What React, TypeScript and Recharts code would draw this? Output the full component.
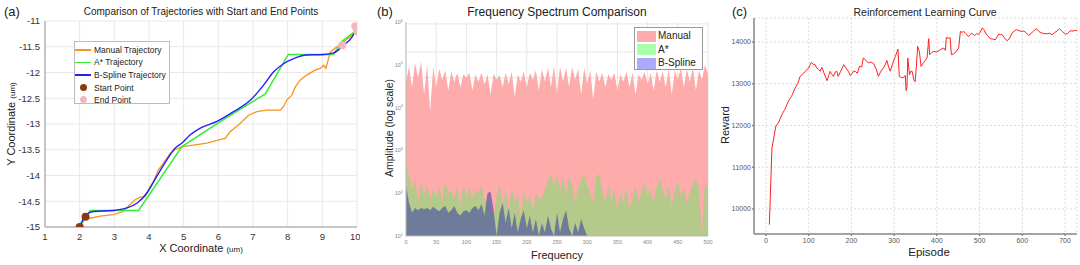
import React from 'react';
import {
  ComposedChart, Line, Scatter, XAxis, YAxis, CartesianGrid,
  AreaChart, Area, LineChart,
} from 'recharts';

// (a) trajectories
const manualX = [2.17, 2.3, 2.59, 2.97, 3.26, 3.4, 3.6, 3.74, 3.89, 3.98, 4.13, 4.27, 4.42, 4.61, 4.75, 4.95, 5.28, 5.67, 5.96, 6.2, 6.34, 6.63, 6.87, 7.11, 7.4, 7.79, 7.88, 7.98, 8.12, 8.22, 8.36, 8.55, 8.8, 8.94, 9.04, 9.1, 9.18, 9.23, 9.42, 9.61, 9.9, 9.98];
const manualY = [-14.8, -14.83, -14.79, -14.76, -14.7, -14.6, -14.47, -14.42, -14.41, -14.28, -14.12, -13.89, -13.76, -13.57, -13.5, -13.44, -13.41, -13.37, -13.32, -13.28, -13.15, -12.99, -12.83, -12.76, -12.73, -12.73, -12.66, -12.53, -12.44, -12.28, -12.15, -12.05, -11.95, -11.92, -11.86, -11.92, -11.73, -11.6, -11.5, -11.41, -11.25, -11.15];
const astarX = [2, 2.3, 3.7, 4.95, 6.0, 7.0, 7.35, 8.02, 9.32, 9.56, 9.94];
const astarY = [-15, -14.68, -14.68, -13.44, -12.98, -12.56, -12.42, -11.65, -11.65, -11.4, -11.2];
const splineX = [2, 2.15, 2.4, 2.97, 3.36, 3.65, 3.94, 4.22, 4.51, 4.75, 4.95, 5.19, 5.48, 5.96, 6.44, 6.92, 7.3, 7.59, 7.88, 8.17, 8.55, 9.04, 9.33, 9.61, 9.86, 9.98];
const splineY = [-15, -14.79, -14.7, -14.68, -14.63, -14.54, -14.34, -14.02, -13.7, -13.47, -13.37, -13.21, -13.08, -12.95, -12.76, -12.54, -12.25, -11.99, -11.83, -11.73, -11.66, -11.65, -11.62, -11.47, -11.31, -11.15];
const startX = [2, 2.17];
const startY = [-15, -14.8];
const endX = [9.57, 9.95, 10];
const endY = [-11.47, -11.1, -11.2];
const xTicksA = [1, 2, 3, 4, 5, 6, 7, 8, 9, 10];
const yTicksA = [-15, -14.5, -14, -13.5, -13, -12.5, -12, -11.5, -11];

// (b) spectrum
const freqs = [0, 5, 10, 15, 20, 25, 30, 35, 40, 45, 50, 55, 60, 65, 70, 75, 80, 85, 90, 95, 100, 105, 110, 115, 120, 125, 130, 135, 140, 145, 150, 155, 160, 165, 170, 175, 180, 185, 190, 195, 200, 205, 210, 215, 220, 225, 230, 235, 240, 245, 250, 255, 260, 265, 270, 275, 280, 285, 290, 295, 300, 305, 310, 315, 320, 325, 330, 335, 340, 345, 350, 355, 360, 365, 370, 375, 380, 385, 390, 395, 400, 405, 410, 415, 420, 425, 430, 435, 440, 445, 450, 455, 460, 465, 470, 475, 480, 485, 490, 495, 500];
const manualAmp = [40000, 90000, 30000, 110000, 50000, 120000, 20000, 100000, 8000, 90000, 30000, 80000, 45000, 75000, 25000, 70000, 40000, 65000, 30000, 60000, 50000, 65000, 25000, 60000, 40000, 65000, 35000, 60000, 20000, 62000, 45000, 58000, 30000, 65000, 35000, 70000, 18000, 60000, 40000, 70000, 30000, 65000, 45000, 75000, 25000, 80000, 40000, 85000, 30000, 95000, 22000, 90000, 40000, 85000, 30000, 90000, 45000, 80000, 20000, 85000, 35000, 75000, 15000, 70000, 40000, 65000, 30000, 60000, 45000, 65000, 25000, 60000, 40000, 70000, 30000, 65000, 20000, 60000, 45000, 70000, 35000, 65000, 25000, 75000, 40000, 70000, 30000, 80000, 20000, 75000, 45000, 85000, 30000, 80000, 40000, 85000, 25000, 75000, 45000, 100000, 60000];
const astarAmp = [600, 250, 120, 200, 60, 180, 90, 150, 70, 130, 80, 150, 60, 180, 100, 120, 70, 150, 50, 160, 90, 140, 70, 120, 100, 160, 60, 90, 40, 30, 80, 160, 50, 120, 40, 140, 60, 100, 30, 120, 60, 90, 40, 100, 70, 80, 120, 200, 280, 150, 260, 120, 230, 90, 250, 150, 60, 130, 200, 280, 150, 100, 60, 250, 280, 120, 60, 150, 70, 120, 40, 100, 60, 130, 40, 80, 150, 60, 110, 170, 90, 130, 60, 140, 220, 120, 70, 150, 50, 110, 200, 80, 130, 60, 100, 170, 220, 120, 10, 180, 120];
const splineAmp = [150, 60, 35, 45, 40, 45, 42, 45, 40, 48, 42, 38, 45, 50, 35, 40, 50, 35, 30, 38, 40, 35, 45, 50, 40, 55, 30, 100, 110, 40, 10, 35, 60, 20, 45, 15, 35, 12, 25, 40, 15, 30, 12, 25, 10, 20, 12, 30, 15, 10, 35, 12, 25, 40, 15, 10, 20, 12, 25, 15, 10, 10, 10, 10, 10, 10, 10, 10, 10, 10, 10, 10, 10, 10, 10, 10, 10, 10, 10, 10, 10, 10, 10, 10, 10, 10, 10, 10, 10, 10, 10, 10, 10, 10, 10, 10, 10, 10, 10, 10, 10];
const seriesB = ['Manual', 'A*', 'B-Spline'];
const xTicksB = [0, 50, 100, 150, 200, 250, 300, 350, 400, 450, 500];
const yTicksB = [10, 100, 1000, 10000, 100000, 1000000];

// (c) learning curve
const episodes = [8, 14, 23, 30, 37, 44, 49, 53, 60, 68, 74, 80, 86, 92, 100, 106, 110, 115, 119, 123, 127, 131, 136, 143, 147, 150, 154, 158, 162, 166, 169, 175, 182, 187, 193, 197, 201, 205, 209, 214, 219, 224, 228, 234, 240, 246, 252, 258, 263, 269, 275, 279, 283, 287, 291, 297, 303, 309, 312, 317, 322, 326, 328, 330, 332, 336, 339, 342, 346, 349, 352, 355, 359, 363, 367, 371, 377, 381, 383, 388, 393, 400, 408, 416, 420, 422, 427, 431, 434, 440, 446, 451, 455, 459, 463, 468, 474, 478, 482, 488, 493, 498, 502, 506, 510, 514, 519, 525, 531, 537, 541, 545, 549, 553, 558, 564, 570, 576, 581, 586, 592, 599, 603, 607, 611, 615, 620, 626, 633, 639, 646, 652, 658, 664, 670, 676, 681, 687, 694, 701, 706, 712, 718, 724, 728];
const rewards = [9624, 11461, 11979, 12080, 12259, 12380, 12498, 12594, 12700, 12898, 13000, 13176, 13230, 13296, 13380, 13512, 13470, 13456, 13380, 13337, 13300, 13392, 13250, 13073, 13200, 13296, 13230, 13176, 13280, 13296, 13176, 13300, 13456, 13380, 13296, 13200, 13230, 13300, 13296, 13250, 13420, 13400, 13617, 13560, 13497, 13520, 13480, 13350, 13176, 13300, 13380, 13450, 13560, 13400, 13300, 13500, 13657, 13832, 13176, 13150, 13150, 13200, 12834, 12900, 13617, 13216, 13296, 13300, 13097, 13050, 13400, 13895, 13775, 13416, 13480, 13535, 13617, 14079, 13696, 13750, 13775, 13760, 13816, 13856, 13800, 14110, 14090, 14100, 13696, 13720, 13780, 13856, 14254, 14230, 14254, 14200, 14134, 14180, 14214, 14150, 14200, 14180, 14250, 14335, 14300, 14214, 14150, 14079, 14070, 14054, 14120, 14190, 14180, 14174, 14100, 14031, 14080, 14214, 14260, 14295, 14270, 14254, 14260, 14238, 14200, 14158, 14200, 14260, 14319, 14250, 14214, 14200, 14198, 14210, 14174, 14230, 14260, 14319, 14250, 14190, 14200, 14270, 14260, 14278, 14275];
const xTicksC = [0, 100, 200, 300, 400, 500, 600, 700];
const yTicksC = [10000, 11000, 12000, 13000, 14000];

const pts = (xs: number[], ys: number[]) => xs.map((x, i) => ({ x, y: ys[i] }));

const manualData = pts(manualX, manualY);
const astarData = pts(astarX, astarY);
const splineData = pts(splineX, splineY);
const startData = pts(startX, startY);
const endData = pts(endX, endY);

const spectrum = freqs.map((f, i) => ({
  f,
  manual: manualAmp[i],
  astar: astarAmp[i],
  spline: splineAmp[i],
}));

const curve = episodes.map((e, i) => ({ e, r: rewards[i] }));

// major + minor decade lines for the log grid
const minorLog: number[] = [];
for (let d = 10; d < 1000000; d *= 10) {
  for (let k = 1; k < 10; k++) minorLog.push(d * k);
}

const FONT = '"Liberation Sans", Arial, sans-serif';

const abs = (extra: React.CSSProperties): React.CSSProperties => ({
  position: 'absolute',
  fontFamily: FONT,
  color: '#222',
  whiteSpace: 'nowrap',
  lineHeight: 1,
  ...extra,
});

const LogTick = (props: any) => {
  const { x, y, payload } = props;
  const exp = Math.round(Math.log10(payload.value));
  return (
    <text x={x} y={y} dy={2} textAnchor="end" fill="#888" fontSize={5.5} fontFamily={FONT}>
      10<tspan dy={-2.5} fontSize={4}>{exp}</tspan>
    </text>
  );
};

const dot = (fill: string) => (p: any) => <circle cx={p.cx} cy={p.cy} r={4} fill={fill} />;

const legendA = [
  { name: 'Manual Trajectory', color: '#f7941d', kind: 'line' },
  { name: 'A* Trajectory', color: '#33ee33', kind: 'line' },
  { name: 'B-Spline Trajectory', color: '#2020ff', kind: 'line' },
  { name: 'Start Point', color: '#8b3a10', kind: 'dot' },
  { name: 'End Point', color: '#f4b6bf', kind: 'dot' },
];

const fillsB = ['#fdabab', 'rgba(109,232,106,0.5)', 'rgba(39,45,170,0.5)'];
const swatchB = ['#fdabab', '#aaffaa', '#aaaaff'];

export default function App() {
  return (
    <div style={{ position: 'absolute', left: 0, top: 0, width: 1080, height: 265, background: '#fff', overflow: 'hidden' }}>
      {/* panel (a) */}
      <div style={{ position: 'absolute', left: 0, top: 0 }}>
        <ComposedChart width={360} height={265} margin={{ top: 21, right: 3, bottom: 18, left: 0 }}>
          <CartesianGrid stroke="#e8e8e8" />
          <XAxis dataKey="x" type="number" domain={[1, 10]} ticks={xTicksA} allowDataOverflow
            height={20} tickSize={0} tickMargin={6} stroke="#999"
            tick={{ fill: '#333', fontSize: 9.5, fontFamily: FONT }} />
          <YAxis dataKey="y" type="number" domain={[-15, -11]} ticks={yTicksA} allowDataOverflow
            width={45} tickSize={0} tickMargin={5} stroke="#999"
            tick={{ fill: '#333', fontSize: 9.5, fontFamily: FONT }} />
          <Line data={manualData} dataKey="y" type="linear" stroke="#f7941d" strokeWidth={1.3} dot={false} isAnimationActive={false} />
          <Line data={astarData} dataKey="y" type="linear" stroke="#33ee33" strokeWidth={1.5} dot={false} isAnimationActive={false} />
          <Line data={splineData} dataKey="y" type="monotone" stroke="#2020ff" strokeWidth={1.4} dot={false} isAnimationActive={false} />
          <Scatter data={startData} dataKey="y" shape={dot('#8b3a10')} isAnimationActive={false} />
          <Scatter data={endData} dataKey="y" shape={dot('#f4b6bf')} isAnimationActive={false} />
        </ComposedChart>
        <div style={abs({ left: 74, top: 41, width: 96, height: 63, border: '1px solid #bbb', background: '#fff', boxSizing: 'border-box' })}>
          {legendA.map((it, i) => (
            <div key={it.name} style={abs({ left: 0, top: 2 + i * 12.6, height: 12, width: 95, display: 'flex', alignItems: 'center', fontSize: 8.5 })}>
              {it.kind === 'line'
                ? <span style={{ display: 'inline-block', width: 16, height: 1.6, background: it.color }} />
                : <span style={{ display: 'inline-block', width: 16, textAlign: 'center' }}>
                    <span style={{ display: 'inline-block', width: 7, height: 7, borderRadius: 4, background: it.color }} />
                  </span>}
              <span style={{ marginLeft: 3 }}>{it.name}</span>
            </div>
          ))}
        </div>
        <div style={abs({ left: 4, top: 5, fontSize: 13 })}>(a)</div>
        <div style={abs({ left: 201, top: 7, fontSize: 10, transform: 'translateX(-50%)' })}>Comparison of Trajectories with Start and End Points</div>
        <div style={abs({ left: 201, top: 243, fontSize: 11, transform: 'translateX(-50%)' })}>
          X Coordinate <span style={{ fontSize: 8 }}>(um)</span>
        </div>
        <div style={abs({ left: 11, top: 124, fontSize: 11, transform: 'translate(-50%,-50%) rotate(-90deg)' })}>
          Y Coordinate <span style={{ fontSize: 8 }}>(um)</span>
        </div>
      </div>

      {/* panel (b) */}
      <div style={{ position: 'absolute', left: 360, top: 0 }}>
        <AreaChart width={360} height={265} data={spectrum} margin={{ top: 22, right: 12, bottom: 15, left: 0 }}>
          <CartesianGrid stroke="#e6e6e6" horizontalValues={minorLog} verticalValues={xTicksB} />
          <XAxis dataKey="f" type="number" domain={[0, 500]} ticks={xTicksB} allowDataOverflow
            height={14} tickSize={0} tickMargin={4} stroke="#bbb"
            tick={{ fill: '#888', fontSize: 5.5, fontFamily: FONT }} />
          <YAxis type="number" scale="log" domain={[10, 1000000]} ticks={yTicksB} allowDataOverflow
            width={46} tickSize={0} tickMargin={3} stroke="#bbb" tick={<LogTick />} />
          <Area type="linear" dataKey="manual" name={seriesB[0]} baseValue={10} stroke="none" fill={fillsB[0]} fillOpacity={1} isAnimationActive={false} />
          <Area type="linear" dataKey="astar" name={seriesB[1]} baseValue={10} stroke="none" fill={fillsB[1]} fillOpacity={1} isAnimationActive={false} />
          <Area type="linear" dataKey="spline" name={seriesB[2]} baseValue={10} stroke="none" fill={fillsB[2]} fillOpacity={1} isAnimationActive={false} />
        </AreaChart>
        <div style={abs({ left: 274, top: 27, width: 69, height: 43, border: '1px solid #999', background: '#fff', boxSizing: 'border-box' })}>
          {seriesB.map((s, i) => (
            <div key={s} style={abs({ left: 2, top: 2 + i * 13.5, height: 12, display: 'flex', alignItems: 'center', fontSize: 10 })}>
              <span style={{ display: 'inline-block', width: 19, height: 11, background: swatchB[i] }} />
              <span style={{ marginLeft: 2 }}>{s}</span>
            </div>
          ))}
        </div>
        <div style={abs({ left: 17, top: 5, fontSize: 13 })}>(b)</div>
        <div style={abs({ left: 197, top: 6, fontSize: 12, transform: 'translateX(-50%)' })}>Frequency Spectrum Comparison</div>
        <div style={abs({ left: 197, top: 250, fontSize: 11, transform: 'translateX(-50%)' })}>Frequency</div>
        <div style={abs({ left: 29, top: 128, fontSize: 10.5, transform: 'translate(-50%,-50%) rotate(-90deg)' })}>Amplitude (log scale)</div>
      </div>

      {/* panel (c) */}
      <div style={{ position: 'absolute', left: 720, top: 0 }}>
        <LineChart width={360} height={265} data={curve} margin={{ top: 18, right: 3, bottom: 19, left: 0 }}>
          <CartesianGrid stroke="#dcdcdc" strokeDasharray="2 2" />
          <XAxis dataKey="e" type="number" domain={[-28, 728]} ticks={xTicksC} allowDataOverflow
            height={12} tickSize={2} tickMargin={2} stroke="#888" strokeWidth={1.5}
            tick={{ fill: '#555', fontSize: 7, fontFamily: FONT }} />
          <YAxis type="number" domain={[9400, 14575]} ticks={yTicksC} allowDataOverflow
            width={34} tickSize={2} tickMargin={1} stroke="#888" strokeWidth={1.5}
            tick={{ fill: '#555', fontSize: 7, fontFamily: FONT }} />
          <Line dataKey="r" type="linear" stroke="#ff2020" strokeWidth={1} dot={false} isAnimationActive={false} />
        </LineChart>
        <div style={abs({ left: 12, top: 5, fontSize: 13 })}>(c)</div>
        <div style={abs({ left: 205, top: 7, fontSize: 10.5, transform: 'translateX(-50%)' })}>Reinforcement Learning Curve</div>
        <div style={abs({ left: 209, top: 247, fontSize: 11.5, transform: 'translateX(-50%)' })}>Episode</div>
        <div style={abs({ left: 5, top: 125, fontSize: 11, transform: 'translate(-50%,-50%) rotate(-90deg)' })}>Reward</div>
      </div>
    </div>
  );
}
